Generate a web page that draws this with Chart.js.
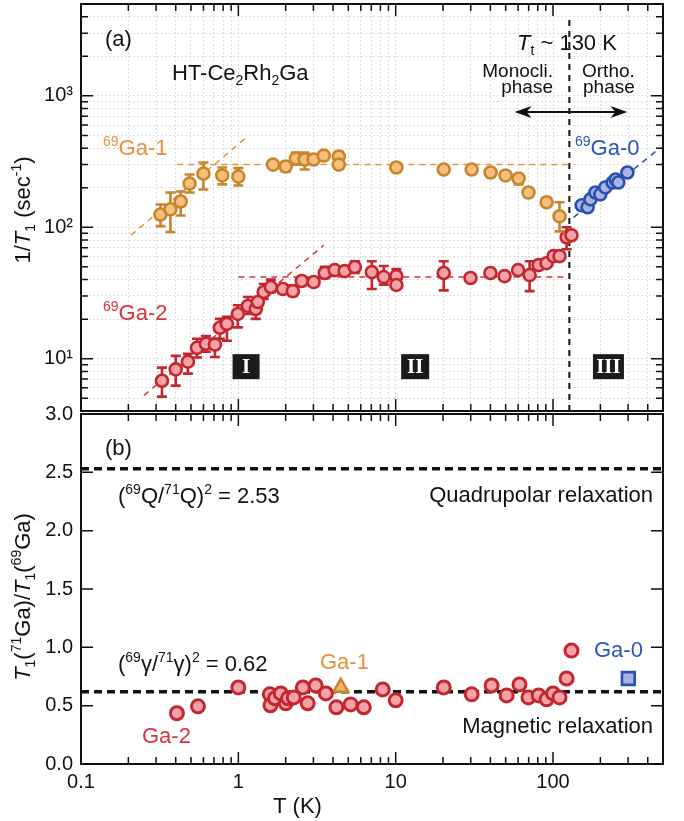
<!DOCTYPE html>
<html lang="pt">
<head>
<meta charset="utf-8">
<title>HT-Ce2Rh2Ga 1/T1</title>
<script src="https://cdn.jsdelivr.net/npm/chart.js@4.4.1/dist/chart.umd.min.js"></script>
<style>
  body { margin: 0; background: #fff; }
  #painel { position: relative; width: 684px; height: 821px; overflow: hidden; }
  #painel canvas { position: absolute; left: 0; }
  #graficoA { top: 0; }
  #graficoB { top: 395px; }
</style>
</head>
<body>
<div id="painel">
  <canvas id="graficoA" width="684" height="416"></canvas>
  <canvas id="graficoB" width="684" height="426"></canvas>
</div>
<script>
// ---- (a) 1/T1 por sitio de Ga ----
const tempGa1 = [0.32, 0.37, 0.43, 0.49, 0.60, 0.79, 1.0, 1.66, 2.0, 2.32, 2.64, 3.01, 3.49, 4.35, 4.35, 10.1, 20.2, 30.4, 40.1, 49.9, 60.4, 69.8, 91, 110];
const taxaGa1 = [125, 137, 157, 215, 256, 248, 243, 300, 290, 333, 328, 328, 351, 345, 300, 285, 275, 275, 261, 248, 235, 184, 155, 121];
const erroGa1 = [[102, 149], [92, 184], [123, 187], [184, 252], [194, 311], [212, 285], [208, 282], null, [265, 315], [300, 370],
  [275, 370], null, null, [316, 376], null, null, null, null, null, null, [212, 252], null, null, [93, 155]];

const tempGa2 = [0.327, 0.40, 0.478, 0.546, 0.622, 0.71, 0.763, 0.846, 0.993, 1.15, 1.29, 1.33, 1.45, 1.61, 1.92, 2.22, 2.53, 3.01, 3.54, 4.1,
  4.74, 5.5, 7.05, 8.4, 10.1, 10.1, 20.2, 29.9, 40, 49.2, 60, 71, 81, 91, 100.7, 110, 122, 131];
const taxaGa2 = [6.8, 8.3, 9.5, 12.1, 13.0, 12.8, 17.2, 18.4, 21.9, 25.2, 23.9, 27, 32.2, 35.1, 33.9, 32.7, 39, 38.3, 44.9, 47.2,
  46.4, 49.8, 45.6, 41.8, 42.5, 36.4, 44.9, 41.1, 44.9, 42.5, 47.2, 43.3, 51.5, 53.3, 60.3, 60.3, 84, 87];
const erroGa2 = [[5.15, 8.55], [6.24, 10.5], [7.7, 10.9], [10.2, 14.2], [11.3, 14.9], [10.3, 14.2], [14.2, 20.1], [13.7, 20.8], [17.3, 25.5], [21.9, 29.5],
  [20.1, 27], null, [28.5, 37], [32, 40], null, [30, 36], null, null, [41, 50], null,
  null, [45, 55], [33.9, 55.2], [36.6, 50.7], [38, 48], null, [33.1, 55.2], null, null, null,
  null, [32.7, 55.2], null, null, null, null, [68, 100], null];

const tempGa0 = [152, 166, 173, 186, 200, 215, 239, 250, 260, 297];
const taxaGa0 = [147, 142, 163, 184, 178, 201, 219, 231, 219, 261];

// retas tracejadas (guia) e transicao Tt
const retaGa1Sobe = [[0.208, 87], [1.12, 481]];
const retaGa1Plana = [[0.41, 300], [125, 300]];
const retaGa2Sobe = [[0.251, 5.25], [3.49, 73]];
const retaGa2Plana = [[1.0, 41.8], [125, 41.8]];
const retaGa0 = [[135, 119], [448, 376]];
const linhaTt = [[127, 3770], [127, 4]];

// ---- (b) razao T1(71Ga)/T1(69Ga) ----
const tempRazaoGa2 = [0.407, 0.554, 1.0, 1.585, 1.6, 1.71, 1.86, 2.0, 2.07, 2.25, 2.57, 2.76, 3.1, 3.6, 4.2, 5.17, 6.27, 8.27, 10, 20.2,
  30.4, 40.7, 50.7, 61.2, 69.8, 81, 91, 100, 110, 122, 131];
const razaoGa2 = [0.435, 0.494, 0.656, 0.597, 0.503, 0.563, 0.605, 0.52, 0.563, 0.571, 0.656, 0.52, 0.673, 0.605, 0.486, 0.511, 0.486, 0.639, 0.546, 0.656,
  0.597, 0.673, 0.588, 0.682, 0.571, 0.588, 0.554, 0.605, 0.571, 0.733, 0.972];
const tempRazaoGa1 = [4.48];
const razaoGa1 = [0.656];
const tempRazaoGa0 = [301];
const razaoGa0 = [0.733];
const quadrupolar = 2.53;
const magnetico = 0.62;

// ---- eixos ----
const marcasX = [0.1, 1, 10, 100];
const rotulosX = ['0.1', '1', '10', '100'];
const marcasYa = [10, 100, 1000];
const rotulosYa = ['10¹', '10²', '10³'];
const marcasYb = [0, 0.5, 1, 1.5, 2, 2.5, 3];
const rotulosYb = ['0.0', '0.5', '1.0', '1.5', '2.0', '2.5', '3.0'];

const fonte = '"Liberation Sans", Arial, Helvetica, sans-serif';
const corLaranja = '#c7862c', fundoLaranja = '#f6c07c', textoLaranja = '#e8903a';
const corVermelha = '#c5252e', fundoVermelho = '#f3a3a7', textoVermelho = '#d8343a';
const corAzul = '#2750b0', fundoAzul = '#aab3dd', textoAzul = '#2a56b8';

function grade(min, max) {
  const v = [];
  for (let e = -1; e <= 3; e++) {
    for (let m = 1; m <= 9; m++) {
      const val = parseFloat((m * Math.pow(10, e)).toPrecision(2));
      if (val >= min && val <= max) v.push(val);
    }
  }
  return v;
}
const gradeX = grade(0.1, 500);
const gradeYa = grade(4, 5000);

function pontos(xs, ys) {
  return xs.map((x, i) => ({ x: x, y: ys[i] }));
}

function marcador(nome, xs, ys, erros, cor, fundo, raio, borda, estilo) {
  return {
    label: nome, data: pontos(xs, ys), erros: erros,
    pointStyle: estilo || 'circle', pointRadius: raio, pointBorderWidth: borda,
    pointBackgroundColor: fundo, pointBorderColor: cor, borderColor: cor, showLine: false
  };
}

function tracejado(par, cor, largura, traco) {
  return {
    data: par.map(p => ({ x: p[0], y: p[1] })),
    showLine: true, pointRadius: 0, borderColor: cor, borderWidth: largura,
    borderDash: traco, fill: false
  };
}

// barras de erro, desenhadas antes de cada serie de marcadores
const barrasErro = {
  id: 'barrasErro',
  beforeDatasetDraw(chart, args) {
    const ds = chart.data.datasets[args.index];
    if (!ds.erros) return;
    const ctx = chart.ctx, sx = chart.scales.x, sy = chart.scales.y;
    ctx.save();
    ctx.strokeStyle = ds.borderColor;
    ctx.lineWidth = 2.6;
    ctx.beginPath();
    ds.data.forEach((p, i) => {
      const e = ds.erros[i];
      if (!e) return;
      const px = sx.getPixelForValue(p.x);
      const y1 = sy.getPixelForValue(e[0]), y2 = sy.getPixelForValue(e[1]);
      ctx.moveTo(px, y1); ctx.lineTo(px, y2);
      ctx.moveTo(px - 5, y1); ctx.lineTo(px + 5, y1);
      ctx.moveTo(px - 5, y2); ctx.lineTo(px + 5, y2);
    });
    ctx.stroke();
    ctx.restore();
  }
};

// marcas internas e moldura
function criaEixos(xTicks, xMaior, yTicks, yMaior) {
  return {
    id: 'eixos',
    afterDatasetsDraw(chart) {
      const ctx = chart.ctx, a = chart.chartArea, sx = chart.scales.x, sy = chart.scales.y;
      ctx.save();
      ctx.strokeStyle = '#111';
      ctx.lineWidth = 1.5;
      ctx.beginPath();
      xTicks.forEach(v => {
        const p = sx.getPixelForValue(v);
        const L = xMaior.includes(v) ? 12 : 7;
        ctx.moveTo(p, a.top); ctx.lineTo(p, a.top + L);
        ctx.moveTo(p, a.bottom); ctx.lineTo(p, a.bottom - L);
      });
      yTicks.forEach(v => {
        const p = sy.getPixelForValue(v);
        const L = yMaior.includes(v) ? 12 : 7;
        ctx.moveTo(a.left, p); ctx.lineTo(a.left + L, p);
        ctx.moveTo(a.right, p); ctx.lineTo(a.right - L, p);
      });
      ctx.stroke();
      ctx.lineWidth = 2;
      ctx.strokeRect(a.left, a.top, a.width, a.height);
      ctx.restore();
    }
  };
}

function fontePara(estilo, tam) {
  const t = (estilo === 'sub' || estilo === 'sup') ? Math.round(tam * 0.62) : tam;
  return (estilo === 'i' ? 'italic ' : '') + t + 'px ' + fonte;
}

// texto com sobrescritos/subscritos; y = linha de base
function textoRico(ctx, partes, x, y, tam, cor, alinhar) {
  const larg = partes.map(([t, e]) => { ctx.font = fontePara(e, tam); return ctx.measureText(t).width; });
  const total = larg.reduce((s, w) => s + w, 0);
  let cx = alinhar === 'center' ? x - total / 2 : alinhar === 'right' ? x - total : x;
  ctx.fillStyle = cor;
  ctx.textAlign = 'left';
  ctx.textBaseline = 'alphabetic';
  partes.forEach(([t, e], i) => {
    ctx.font = fontePara(e, tam);
    const dy = e === 'sub' ? tam * 0.22 : e === 'sup' ? -tam * 0.4 : 0;
    ctx.fillText(t, cx, y + dy);
    cx += larg[i];
  });
}

function tituloVertical(ctx, partes, cx, cy, tam) {
  ctx.save();
  ctx.translate(cx + 8, cy);
  ctx.rotate(-Math.PI / 2);
  textoRico(ctx, partes, 0, 0, tam, '#111', 'center');
  ctx.restore();
}

function caixaRomana(ctx, txt, cx, cy, w) {
  ctx.fillStyle = '#1d1a1a';
  ctx.fillRect(cx - w / 2, cy - 12.5, w, 25);
  ctx.fillStyle = '#fff';
  ctx.font = 'bold 21px "Liberation Serif", "DejaVu Serif", serif';
  ctx.textAlign = 'center';
  ctx.textBaseline = 'middle';
  ctx.fillText(txt, cx, cy + 1);
}

function seta(ctx, x1, x2, y) {
  ctx.strokeStyle = '#111';
  ctx.fillStyle = '#111';
  ctx.lineWidth = 2;
  ctx.beginPath(); ctx.moveTo(x1 + 8, y); ctx.lineTo(x2 - 8, y); ctx.stroke();
  [[x1, 1], [x2, -1]].forEach(([x, d]) => {
    ctx.beginPath();
    ctx.moveTo(x, y);
    ctx.lineTo(x + d * 17, y - 6);
    ctx.lineTo(x + d * 12, y);
    ctx.lineTo(x + d * 17, y + 6);
    ctx.closePath();
    ctx.fill();
  });
}

const anotacoesA = {
  id: 'anotacoesA',
  afterDraw(chart) {
    const ctx = chart.ctx, sx = chart.scales.x, sy = chart.scales.y;
    ctx.save();
    caixaRomana(ctx, 'I', sx.getPixelForValue(1.12), sy.getPixelForValue(8.7), 27);
    caixaRomana(ctx, 'II', sx.getPixelForValue(13.3), sy.getPixelForValue(8.7), 28);
    caixaRomana(ctx, 'III', sx.getPixelForValue(225), sy.getPixelForValue(8.7), 31);
    seta(ctx, sx.getPixelForValue(57), sx.getPixelForValue(297), sy.getPixelForValue(755));

    textoRico(ctx, [['(a)', '']], 105, 46, 22, '#111');
    textoRico(ctx, [['HT-Ce', ''], ['2', 'sub'], ['Rh', ''], ['2', 'sub'], ['Ga', '']], 172, 80, 22, '#111');
    textoRico(ctx, [['69', 'sup'], ['Ga-1', '']], 103, 155, 22, textoLaranja);
    textoRico(ctx, [['69', 'sup'], ['Ga-2', '']], 103, 320, 22, textoVermelho);
    textoRico(ctx, [['69', 'sup'], ['Ga-0', '']], 575, 155, 22, textoAzul);
    textoRico(ctx, [['T', 'i'], ['t', 'sub'], [' ~ 130 K', '']], 517, 50, 22, '#111');
    textoRico(ctx, [['Monocli.', '']], 553, 77, 19, '#111', 'right');
    textoRico(ctx, [['phase', '']], 553, 93, 19, '#111', 'right');
    textoRico(ctx, [['Ortho.', '']], 582, 77, 19, '#111');
    textoRico(ctx, [['phase', '']], 583, 93, 19, '#111');

    tituloVertical(ctx, [['1/', ''], ['T', 'i'], ['1', 'sub'], [' (sec', ''], ['-1', 'sup'], [')', '']], 22, 210, 22);
    ctx.restore();
  }
};

// canvas (b) comeca em y = 395 na pagina
const desvioB = -395;
const anotacoesB = {
  id: 'anotacoesB',
  afterDraw(chart) {
    const ctx = chart.ctx;
    ctx.save();
    ctx.translate(0, desvioB);
    textoRico(ctx, [['(b)', '']], 105, 455, 22, '#111');
    textoRico(ctx, [['(', ''], ['69', 'sup'], ['Q/', ''], ['71', 'sup'], ['Q)', ''], ['2', 'sup'], [' = 2.53', '']], 118, 503, 22, '#111');
    textoRico(ctx, [['Quadrupolar relaxation', '']], 653, 502, 22, '#111', 'right');
    textoRico(ctx, [['(', ''], ['69', 'sup'], ['γ/', ''], ['71', 'sup'], ['γ)', ''], ['2', 'sup'], [' = 0.62', '']], 118, 671, 22, '#111');
    textoRico(ctx, [['Ga-1', '']], 320, 669, 22, textoLaranja);
    textoRico(ctx, [['Ga-2', '']], 142, 743, 22, textoVermelho);
    textoRico(ctx, [['Ga-0', '']], 594, 657, 22, textoAzul);
    textoRico(ctx, [['Magnetic relaxation', '']], 653, 733, 22, '#111', 'right');
    textoRico(ctx, [['T (K)', '']], 273, 813, 22, '#111');
    tituloVertical(ctx, [['T', 'i'], ['1', 'sub'], ['(', ''], ['71', 'sup'], ['Ga)/', ''], ['T', 'i'], ['1', 'sub'], ['(', ''], ['69', 'sup'], ['Ga)', '']], 22, 597, 22);
    ctx.restore();
  }
};

const fonteTicks = { family: fonte, size: 20 };

new Chart(document.getElementById('graficoA'), {
  type: 'scatter',
  data: {
    datasets: [
      marcador('69Ga-0', tempGa0, taxaGa0, null, corAzul, fundoAzul, 6, 2.6),
      marcador('69Ga-1', tempGa1, taxaGa1, erroGa1, corLaranja, fundoLaranja, 6, 2.6),
      marcador('69Ga-2', tempGa2, taxaGa2, erroGa2, corVermelha, fundoVermelho, 6, 2.6),
      tracejado(retaGa1Sobe, textoLaranja, 1.5, [6, 5]),
      tracejado(retaGa1Plana, textoLaranja, 1.5, [6, 5]),
      tracejado(retaGa2Sobe, textoVermelho, 1.5, [6, 5]),
      tracejado(retaGa2Plana, textoVermelho, 1.5, [6, 5]),
      tracejado(retaGa0, corAzul, 1.5, [6, 5]),
      tracejado(linhaTt, '#111', 2, [6, 5])
    ]
  },
  options: {
    responsive: false, animation: false, events: [],
    layout: { autoPadding: false, padding: { left: 0, right: 21, top: 4, bottom: 5 } },
    plugins: { legend: { display: false }, tooltip: { enabled: false } },
    scales: {
      x: {
        type: 'logarithmic', min: 0.1, max: 500,
        afterBuildTicks: s => { s.ticks = gradeX.map(v => ({ value: v })); },
        afterFit: s => { s.height = 0; s.paddingLeft = 0; s.paddingRight = 0; },
        ticks: { display: false },
        grid: { color: '#dddddd', lineWidth: 1, drawTicks: false },
        border: { display: false, dash: [2, 2] }
      },
      y: {
        type: 'logarithmic', min: 4, max: 5000,
        afterBuildTicks: s => { s.ticks = gradeYa.map(v => ({ value: v })); },
        afterFit: s => { s.width = 81; s.paddingTop = 0; s.paddingBottom = 0; },
        ticks: {
          autoSkip: false, padding: 8, color: '#111', font: fonteTicks,
          callback: v => { const k = marcasYa.indexOf(v); return k >= 0 ? rotulosYa[k] : ''; }
        },
        grid: { color: '#dddddd', lineWidth: 1, drawTicks: false },
        border: { display: false, dash: [2, 2] }
      }
    }
  },
  plugins: [barrasErro, criaEixos(gradeX, marcasX, gradeYa, marcasYa), anotacoesA]
});

new Chart(document.getElementById('graficoB'), {
  type: 'scatter',
  data: {
    datasets: [
      marcador('Ga-2', tempRazaoGa2, razaoGa2, null, corVermelha, fundoVermelho, 6.5, 3),
      marcador('Ga-1', tempRazaoGa1, razaoGa1, null, corLaranja, '#f2b768', 8.5, 2.6, 'triangle'),
      marcador('Ga-0', tempRazaoGa0, razaoGa0, null, corAzul, fundoAzul, 9, 2.6, 'rect'),
      tracejado([[0.1, quadrupolar], [500, quadrupolar]], '#111', 3.5, [8, 5]),
      tracejado([[0.1, magnetico], [500, magnetico]], '#111', 3.5, [8, 5])
    ]
  },
  options: {
    responsive: false, animation: false, events: [],
    layout: { autoPadding: false, padding: { left: 0, right: 21, top: 19, bottom: 0 } },
    plugins: { legend: { display: false }, tooltip: { enabled: false } },
    scales: {
      x: {
        type: 'logarithmic', min: 0.1, max: 500,
        afterBuildTicks: s => { s.ticks = gradeX.map(v => ({ value: v })); },
        afterFit: s => { s.height = 57; s.paddingLeft = 0; s.paddingRight = 0; },
        ticks: {
          autoSkip: false, maxRotation: 0, padding: 6, color: '#111', font: fonteTicks,
          callback: v => { const k = marcasX.indexOf(v); return k >= 0 ? rotulosX[k] : ''; }
        },
        grid: { display: false, drawTicks: false },
        border: { display: false }
      },
      y: {
        type: 'linear', min: 0, max: 3,
        afterBuildTicks: s => { s.ticks = marcasYb.map(v => ({ value: v })); },
        afterFit: s => { s.width = 81; s.paddingTop = 0; s.paddingBottom = 0; },
        ticks: {
          autoSkip: false, padding: 8, color: '#111', font: fonteTicks,
          callback: (v, i) => rotulosYb[i]
        },
        grid: { display: false, drawTicks: false },
        border: { display: false }
      }
    }
  },
  plugins: [criaEixos(gradeX, marcasX, marcasYb, marcasYb), anotacoesB]
});
</script>
</body>
</html>
